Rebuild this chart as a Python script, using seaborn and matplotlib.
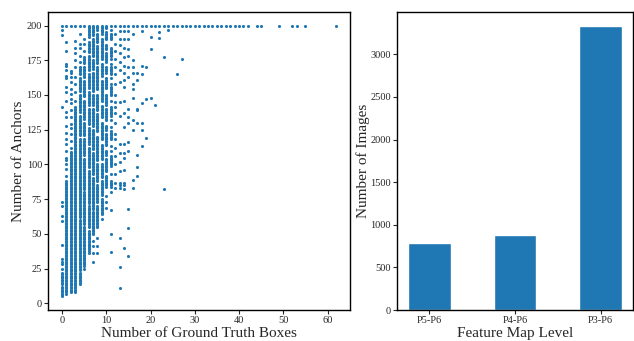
import numpy as np
import pandas as pd
import seaborn as sns
import matplotlib.pyplot as plt

# ----------------------------
# Data
# ----------------------------
# dense runs of anchor counts per number of GT boxes (every integer inside a run is present)
dense_runs = {
    0: [(5, 12), (14, 22)],
    1: [(7, 88)],
    2: [(8, 109)],
    3: [(8, 141)],
    4: [(14, 22), (24, 60), (62, 95), (97, 118), (121, 135), (138, 150), (153, 162), (165, 170)],
    5: [(27, 55), (57, 80), (82, 104), (107, 118), (121, 130), (133, 146), (149, 160),
        (163, 170), (173, 177)],
    6: [(38, 52), (55, 70), (72, 95), (98, 112), (115, 126), (129, 140), (143, 152),
        (155, 165), (168, 178), (181, 188), (192, 200)],
    7: [(50, 66), (68, 90), (93, 108), (111, 125), (128, 140), (143, 150), (153, 166),
        (169, 175), (178, 190), (193, 200)],
    8: [(55, 70), (73, 85), (88, 100), (103, 120), (124, 136), (139, 150), (154, 170),
        (173, 185), (188, 194), (197, 200)],
    9: [(64, 75), (78, 88), (91, 100), (104, 114), (118, 130), (134, 142), (146, 160),
        (164, 172), (176, 190), (194, 200)],
    10: [(84, 92), (95, 104), (107, 110), (114, 122), (125, 128), (132, 140), (143, 150),
         (155, 162), (166, 170), (174, 180), (183, 186), (190, 195), (198, 200)],
    11: [(84, 88), (100, 106), (118, 124), (135, 141), (150, 156), (165, 170),
         (178, 184), (190, 194)],
}

# isolated points per number of GT boxes
single_points = {
    0: [25, 28, 30, 32, 42, 59, 63, 70, 73, 141, 193, 197, 200],
    1: [92, 97, 100, 103, 105, 110, 115, 118, 123, 128, 134, 138, 146, 152, 156,
        162, 164, 168, 171, 172, 182, 188, 200],
    2: [112, 117, 122, 126, 129, 134, 139, 144, 147, 151, 154, 159, 163, 166, 167, 200],
    3: [146, 152, 158, 163, 170, 175, 180, 184, 189, 200],
    4: [174, 178, 184, 187, 194, 200],
    5: [25, 29, 33, 37, 182, 187, 190, 200],
    6: [36, 40, 42],
    7: [30, 36, 41, 45],
    8: [36, 41, 47],
    9: [61],
    10: [69, 73, 77],
    11: [37, 50, 67, 80, 93, 99, 110, 113, 127, 132, 146, 158, 162, 172, 176, 197, 200],
    12: [83, 87, 93, 100, 106, 112, 118, 122, 130, 137, 141, 145, 150, 158, 165, 170,
         176, 182, 187, 194, 200],
    13: [11, 26, 47, 83, 85, 87, 95, 102, 108, 115, 135, 145, 159, 168, 174, 180, 186,
         190, 196, 200],
    14: [40, 82, 85, 87, 96, 105, 108, 115, 127, 137, 146, 156, 161, 166, 171, 177, 184,
         190, 196, 200],
    15: [34, 54, 68, 110, 116, 130, 134, 140, 163, 170, 178, 183, 190, 196, 200],
    16: [83, 89, 125, 132, 148, 154, 158, 166, 170, 175, 194, 200],
    17: [92, 98, 107, 130, 139, 140, 161, 166, 200],
    18: [113, 125, 130, 144, 165, 171, 196, 200],
    19: [119, 147, 170, 200],
    20: [148, 183, 192, 200],
    21: [143, 200],
    22: [191, 195, 200],
    23: [82, 177, 200],
    24: [197, 200],
    25: [200],
    26: [165, 200],
    27: [176, 200],
}
top_row_boxes = list(range(28, 43)) + [44, 45, 49, 52, 53, 55, 62]  # images capped at 200 anchors

levels = ["P5-P6", "P4-P6", "P3-P6"]
num_images = [785, 880, 3330]

# build long table for the scatter
rows = []
for x, runs in dense_runs.items():
    for lo, hi in runs:
        for y in range(lo, hi + 1):
            rows.append((x, y))
for x, ys in single_points.items():
    for y in ys:
        rows.append((x, y))
for x in top_row_boxes:
    rows.append((x, 200))
df = pd.DataFrame(rows, columns=["gt_boxes", "anchors"])
bars = pd.DataFrame({"level": levels, "images": num_images})

# ----------------------------
# Style
# ----------------------------
sns.set_style("ticks")
plt.rcParams["font.family"] = ["Liberation Serif", "DejaVu Serif"]
plt.rcParams["xtick.major.size"] = 3
plt.rcParams["ytick.major.size"] = 3
plt.rcParams["axes.edgecolor"] = "black"
plt.rcParams["axes.linewidth"] = 1.0

fig, (ax1, ax2) = plt.subplots(1, 2, figsize=(6.34, 3.41), dpi=100)
ax1.set_position([0.0762, 0.0909, 0.476, 0.874])
ax2.set_position([0.6267, 0.0909, 0.3713, 0.874])

# ----------------------------
# 1. Anchors vs GT boxes
# ----------------------------
sns.scatterplot(data=df, x="gt_boxes", y="anchors", ax=ax1, s=5,
                color="#1f77b4", linewidth=0)
ax1.set_xlabel("Number of Ground Truth Boxes", fontsize=11, labelpad=1)
ax1.set_ylabel("Number of Anchors", fontsize=11, labelpad=1)
ax1.set_xticks([0, 10, 20, 30, 40, 50, 60])
ax1.set_yticks([0, 25, 50, 75, 100, 125, 150, 175, 200])
ax1.tick_params(labelsize=7.5, pad=1.5)

# ----------------------------
# 2. Images per feature map level
# ----------------------------
sns.barplot(data=bars, x="level", y="images", ax=ax2, width=0.5,
            color="#1f77b4", saturation=1)
ax2.set_xlim(-0.375, 2.375)
ax2.set_xlabel("Feature Map Level", fontsize=11, labelpad=1)
ax2.set_ylabel("Number of Images", fontsize=11, labelpad=0)
ax2.set_yticks([0, 500, 1000, 1500, 2000, 2500, 3000])
ax2.tick_params(labelsize=7.5, pad=1.5)

fig.savefig("out.png", dpi=100)
